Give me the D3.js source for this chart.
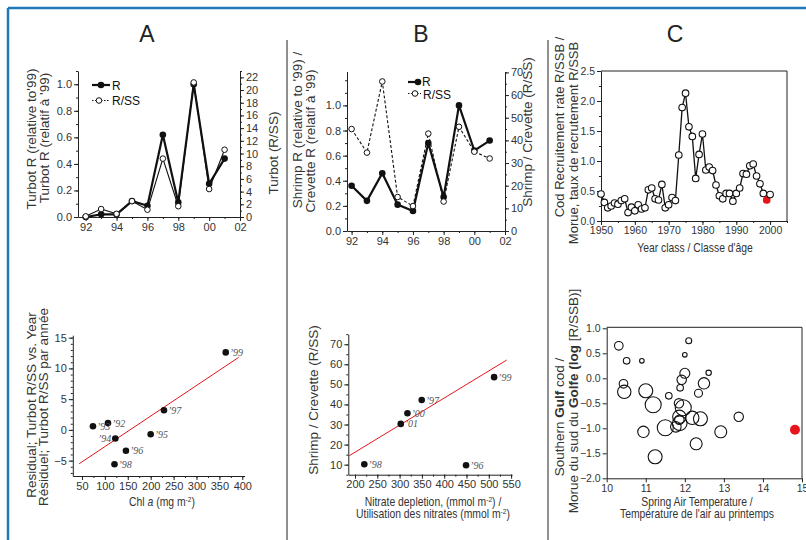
<!DOCTYPE html>
<html>
<head>
<meta charset="utf-8">
<script src="https://cdn.jsdelivr.net/npm/d3@7"></script>
<style>
  body { margin: 0; background: #fff; }
  svg text { font-family: "Liberation Sans", Arial, sans-serif; fill: #333; }
  .axis text { font-size: 11px; fill: #333; }
  .axis path, .axis line { stroke: #222; stroke-width: 1; }
  .ylab { font-size: 13.5px; }
  .xlab { font-size: 12.5px; }
  .yr { font-family: "Liberation Serif", "Times New Roman", serif !important; font-style: italic; font-size: 10px; fill: #555 !important; }
</style>
</head>
<body>
<svg id="fig" width="806" height="540"></svg>
<script>
// -------------------- DATA --------------------

// A (top) : turbot, 1992-2001
const years = [92, 93, 94, 95, 96, 97, 98, 99, 100, 101];
const turbotR = [0.0, 0.02, 0.02, 0.12, 0.085, 0.62, 0.11, 1.0, 0.25, 0.44];
const turbotRSS = [0.1, 1.25, 0.5, 2.5, 1.15, 9.2, 1.7, 21.2, 4.4, 10.6];

// B (top) : shrimp, 1992-2001
const shrimpR = [0.36, 0.24, 0.46, 0.21, 0.16, 0.70, 0.27, 1.0, 0.64, 0.72];
const shrimpRSS = [45, 34.6, 66, 15, 11, 43, 13, 46, 35, 32];

const yearTicks = [92, 94, 96, 98, 100, 102];
const yearTickLabels = ["92", "94", "96", "98", "00", "02"];

// C (top) : cod recruitment rate, 1950-2000
const codYears = d3.range(1950, 2001);
const codRSSB = [0.45, 0.31, 0.22, 0.25, 0.30, 0.28, 0.34, 0.37, 0.14, 0.23,
                 0.17, 0.27, 0.20, 0.22, 0.52, 0.55, 0.37, 0.35, 0.61, 0.22,
                 0.27, 0.39, 0.34, 1.10, 1.89, 2.13, 1.57, 1.41, 0.71, 1.11,
                 1.45, 0.85, 0.90, 0.84, 0.60, 0.42, 0.37, 0.46, 0.46, 0.33,
                 0.46, 0.55, 0.79, 0.78, 0.92, 0.95, 0.75, 0.62, 0.46, 0.35,
                 0.44];
const codHighlight = 1999;

// A (bottom) : residual turbot R/SS vs Chl a
const turbotLabels = ["’92", "’93", "’94", "’95", "’96", "’97", "’98", "’99"];
const chlA = [106.8, 74, 122.8, 200, 146, 229, 121, 363.8];
const turbotResid = [1.1, 0.6, -1.4, -0.7, -3.4, 3.2, -5.6, 12.6];
const turbotFit = { slope: 0.0497, intercept: -7.69, from: 44, to: 392 };

// B (bottom) : shrimp R/SS vs nitrate depletion
const shrimpLabels = ["’96", "’97", "’98", "’99", "’00", "’01"];
const nitrate = [449, 349.6, 220.9, 511.9, 317.6, 302.6];
const shrimpRSSpts = [9.7, 42.2, 10.2, 53.6, 35.6, 30.3];
const shrimpFit = { slope: 0.135, intercept: -10.8, from: 187, to: 540 };

// C (bottom) : cod log(R/SSB) vs spring air temperature, bubble = size
const springTemp = [10.31, 10.51, 10.90, 12.10, 12.0, 12.61, 12.0, 11.92, 12.49, 10.43,
                    10.45, 11.0, 11.88, 12.35, 11.59, 11.19, 11.85, 11.96, 12.19, 12.40,
                    11.86, 11.86, 11.87, 11.77, 11.50, 10.94, 12.92, 13.38, 12.29, 11.24];
const logRSSB = [0.65, 0.35, 0.35, 0.75, 0.47, 0.11, 0.10, -0.03, -0.10, -0.11,
                 -0.27, -0.25, -0.19, -0.30, -0.35, -0.53, -0.50, -0.59, -0.79, -0.81,
                 -0.83, -0.77, -0.90, -0.97, -0.99, -1.07, -1.07, -0.77, -1.31, -1.57];
const bubbleSize = [4.3, 3.3, 2.3, 3.0, 2.3, 2.7, 5.0, 4.7, 5.7, 4.3,
                    6.7, 7.0, 3.3, 4.0, 3.3, 8.0, 4.7, 8.0, 6.7, 7.0,
                    4.7, 6.7, 7.3, 5.3, 8.0, 5.7, 6.0, 4.7, 6.0, 7.0];
const tempHighlight = { temp: 14.82, value: -1.03, size: 5 };

// -------------------- HELPERS --------------------

const svg = d3.select("#fig");

function drawAxis(g, orient, scale, pos, major, minor, fmt) {
  const make = { left: d3.axisLeft, right: d3.axisRight, bottom: d3.axisBottom }[orient];
  const t = orient === "bottom" ? `translate(0,${pos})` : `translate(${pos},0)`;
  if (minor) {
    g.append("g").attr("class", "axis").attr("transform", t)
      .call(make(scale).tickValues(minor).tickSize(2).tickFormat("").tickSizeOuter(0))
      .select(".domain").remove();
  }
  g.append("g").attr("class", "axis").attr("transform", t)
    .call(make(scale).tickValues(major).tickSize(4).tickPadding(2).tickFormat(fmt).tickSizeOuter(0));
}

function yLabel(g, text, cx, cy, cls) {
  return g.append("text").attr("class", cls || "ylab")
    .attr("transform", `translate(${cx},${cy}) rotate(-90)`)
    .attr("text-anchor", "middle").attr("dy", "0.35em").text(text);
}

// x labels in the picture use a narrow face: squeeze horizontally
function xLabel(g, cx, y) {
  return g.append("text").attr("class", "xlab")
    .attr("transform", `translate(${cx},${y}) scale(0.83,1)`)
    .attr("text-anchor", "middle");
}

function sup(t, s, after) {
  t.append("tspan").attr("dy", -4).attr("font-size", "8px").text(s);
  t.append("tspan").attr("dy", 4).text(after || ")");
}

// -------------------- FRAME --------------------

svg.append("line").attr("x1", 8).attr("y1", 8).attr("x2", 806).attr("y2", 8)
  .attr("stroke", "#1f78b8").attr("stroke-width", 2.5);
svg.append("line").attr("x1", 8).attr("y1", 8).attr("x2", 8).attr("y2", 540)
  .attr("stroke", "#1f78b8").attr("stroke-width", 2.5);
[287, 548].forEach(x => svg.append("line").attr("x1", x).attr("x2", x).attr("y1", 40).attr("y2", 540)
  .attr("stroke", "#222").attr("stroke-width", 1));

[["A", 147], ["B", 421], ["C", 675]].forEach(([t, x]) =>
  svg.append("text").attr("x", x).attr("y", 41.5).attr("text-anchor", "middle")
    .style("font-size", "23px").style("fill", "#222").text(t));

// -------------------- A TOP --------------------
{
  const g = svg.append("g");
  const x = d3.scaleLinear().domain([91.5, 102]).range([78, 240]);
  const y = d3.scaleLinear().domain([0, 1.1]).range([217, 71]);
  const y2 = d3.scaleLinear().domain([0, 23]).range([217, 71]);

  drawAxis(g, "bottom", x, 217, yearTicks, d3.range(92, 103), (d, i) => yearTickLabels[i]);
  drawAxis(g, "left", y, 78, [0, 0.2, 0.4, 0.6, 0.8, 1.0], d3.range(0, 1.11, 0.1), d3.format(".1f"));
  drawAxis(g, "right", y2, 240, d3.range(0, 23, 2), d3.range(0, 24, 1), d3.format("d"));

  g.append("path").datum(turbotR)
    .attr("d", d3.line().x((d, i) => x(years[i])).y(d => y(d)))
    .attr("fill", "none").attr("stroke", "#111").attr("stroke-width", 2.2);
  g.selectAll(".rA").data(turbotR).enter().append("circle")
    .attr("cx", (d, i) => x(years[i])).attr("cy", d => y(d)).attr("r", 3.3).attr("fill", "#111");

  g.append("path").datum(turbotRSS)
    .attr("d", d3.line().x((d, i) => x(years[i])).y(d => y2(d)))
    .attr("fill", "none").attr("stroke", "#111").attr("stroke-width", 1.1);
  g.selectAll(".sA").data(turbotRSS).enter().append("circle")
    .attr("cx", (d, i) => x(years[i])).attr("cy", d => y2(d)).attr("r", 2.8)
    .attr("fill", "#fff").attr("stroke", "#111").attr("stroke-width", 1);

  // legend
  g.append("line").attr("x1", 92).attr("x2", 110).attr("y1", 85).attr("y2", 85).attr("stroke", "#111").attr("stroke-width", 2.2);
  g.append("circle").attr("cx", 101).attr("cy", 85).attr("r", 3.3).attr("fill", "#111");
  g.append("text").attr("x", 112).attr("y", 89.5).style("font-size", "12px").style("fill", "#111").text("R");
  g.append("line").attr("x1", 92).attr("x2", 110).attr("y1", 100.5).attr("y2", 100.5).attr("stroke", "#111")
    .attr("stroke-width", 1).attr("stroke-dasharray", "1.5,1.5");
  g.append("circle").attr("cx", 99).attr("cy", 100.5).attr("r", 2.8).attr("fill", "#fff").attr("stroke", "#111");
  g.append("text").attr("x", 112).attr("y", 105).style("font-size", "12px").style("fill", "#111").text("R/SS");

  yLabel(g, "Turbot R (relative to'99)", 31, 139);
  yLabel(g, "Turbot R (relatif à '99)", 44, 138);
  yLabel(g, "Turbot (R/SS)", 273, 153);
}

// -------------------- B TOP --------------------
{
  const g = svg.append("g");
  const x = d3.scaleLinear().domain([91.7, 102]).range([347, 505]);
  const y = d3.scaleLinear().domain([0, 1.27]).range([231, 71.5]);
  const y2 = d3.scaleLinear().domain([0, 70.4]).range([231, 71.5]);

  drawAxis(g, "bottom", x, 231, yearTicks, d3.range(92, 103), (d, i) => yearTickLabels[i]);
  drawAxis(g, "left", y, 347, [0, 0.2, 0.4, 0.6, 0.8, 1.0], d3.range(0, 1.27, 0.1), d3.format(".1f"));
  drawAxis(g, "right", y2, 505, d3.range(0, 71, 10), d3.range(0, 71, 5), d3.format("d"));

  g.append("path").datum(shrimpR)
    .attr("d", d3.line().x((d, i) => x(years[i])).y(d => y(d)))
    .attr("fill", "none").attr("stroke", "#111").attr("stroke-width", 2.2);
  g.selectAll(".rB").data(shrimpR).enter().append("circle")
    .attr("cx", (d, i) => x(years[i])).attr("cy", d => y(d)).attr("r", 3.3).attr("fill", "#111");

  g.append("path").datum(shrimpRSS)
    .attr("d", d3.line().x((d, i) => x(years[i])).y(d => y2(d)))
    .attr("fill", "none").attr("stroke", "#111").attr("stroke-width", 1.1).attr("stroke-dasharray", "3,2");
  g.selectAll(".sB").data(shrimpRSS).enter().append("circle")
    .attr("cx", (d, i) => x(years[i])).attr("cy", d => y2(d)).attr("r", 2.8)
    .attr("fill", "#fff").attr("stroke", "#111").attr("stroke-width", 1);

  // legend
  g.append("line").attr("x1", 408).attr("x2", 421).attr("y1", 82).attr("y2", 82).attr("stroke", "#111").attr("stroke-width", 2.2);
  g.append("circle").attr("cx", 418).attr("cy", 82).attr("r", 3.3).attr("fill", "#111");
  g.append("text").attr("x", 422).attr("y", 86).style("font-size", "12px").style("fill", "#111").text("R");
  g.append("line").attr("x1", 408).attr("x2", 421).attr("y1", 93.5).attr("y2", 93.5).attr("stroke", "#111")
    .attr("stroke-width", 1).attr("stroke-dasharray", "1.5,1.5");
  g.append("circle").attr("cx", 415).attr("cy", 93.5).attr("r", 2.8).attr("fill", "#fff").attr("stroke", "#111");
  g.append("text").attr("x", 423).attr("y", 98.5).style("font-size", "12px").style("fill", "#111").text("R/SS");

  yLabel(g, "Shrimp R (relative to '99) /", 297, 130);
  yLabel(g, "Crevette R (relatif à '99)", 310, 141);
  yLabel(g, "Shrimp / Crevette (R/SS)", 527, 132);
}

// -------------------- C TOP --------------------
{
  const g = svg.append("g");
  const x = d3.scaleLinear().domain([1950, 2005]).range([601, 787]);
  const y = d3.scaleLinear().domain([0, 2.5]).range([221, 71]);

  drawAxis(g, "bottom", x, 221, d3.range(1950, 2001, 10), d3.range(1950, 2006, 5), d3.format("d"));
  drawAxis(g, "left", y, 601, d3.range(0, 2.51, 0.5), d3.range(0, 2.51, 0.25), d3.format(".1f"));
  g.append("path").attr("d", `M${x(1950)},${y(2.5)}H${x(2005)}V${y(0)}`)
    .attr("fill", "none").attr("stroke", "#222");
  g.selectAll(".axis text").style("font-size", "10.5px");

  g.append("path").datum(codRSSB)
    .attr("d", d3.line().x((d, i) => x(codYears[i])).y(d => y(d)))
    .attr("fill", "none").attr("stroke", "#111").attr("stroke-width", 1.3);
  g.selectAll(".cod").data(codRSSB).enter().append("circle")
    .attr("cx", (d, i) => x(codYears[i])).attr("cy", d => y(d)).attr("r", 3.3)
    .attr("fill", (d, i) => codYears[i] === codHighlight ? "#e8141c" : "#fff")
    .attr("stroke", (d, i) => codYears[i] === codHighlight ? "#e8141c" : "#111")
    .attr("stroke-width", 1.1);

  yLabel(g, "Cod Recruitement rate R/SSB /", 559, 127, "ylab").style("font-size", "13px");
  yLabel(g, "Morue, taux de recrutement R/SSB", 573, 143, "ylab").style("font-size", "13px");
  xLabel(g, 695, 251.5).text("Year class / Classe d'âge");
}

// -------------------- A BOTTOM --------------------
{
  const g = svg.append("g");
  const x = d3.scaleLinear().domain([30, 405]).range([72.8, 244.6]);
  const y = d3.scaleLinear().domain([-7.5, 15.4]).range([476, 335.2]);

  drawAxis(g, "bottom", x, 476, d3.range(50, 401, 50), d3.range(50, 401, 25), d3.format("d"));
  drawAxis(g, "left", y, 72.8, d3.range(-5, 16, 5), d3.range(-7, 16, 1), d3.format("d"));

  g.append("line")
    .attr("x1", x(turbotFit.from)).attr("y1", y(turbotFit.intercept + turbotFit.slope * turbotFit.from))
    .attr("x2", x(turbotFit.to)).attr("y2", y(turbotFit.intercept + turbotFit.slope * turbotFit.to))
    .attr("stroke", "#e8141c").attr("stroke-width", 1);

  g.selectAll(".pA").data(chlA).enter().append("circle")
    .attr("cx", d => x(d)).attr("cy", (d, i) => y(turbotResid[i])).attr("r", 3.3).attr("fill", "#111");
  g.selectAll(".lA").data(chlA).enter().append("text").attr("class", "yr")
    .attr("x", (d, i) => turbotLabels[i] === "’94" ? x(d) - 4 : x(d) + 4)
    .attr("text-anchor", (d, i) => turbotLabels[i] === "’94" ? "end" : "start")
    .attr("y", (d, i) => y(turbotResid[i]) + 3.5)
    .text((d, i) => turbotLabels[i]);

  yLabel(g, "Residual; Turbot R/SS vs. Year", 31, 405);
  yLabel(g, "Résiduel; Turbot R/SS par année", 43.5, 407);
  const t = xLabel(g, 162, 505.5);
  t.append("tspan").text("Chl ");
  t.append("tspan").style("font-style", "italic").text("a");
  t.append("tspan").text(" (mg m");
  sup(t, "-2");
}

// -------------------- B BOTTOM --------------------
{
  const g = svg.append("g");
  const x = d3.scaleLinear().domain([185, 552]).range([348.3, 512]);
  const y = d3.scaleLinear().domain([5, 75]).range([474.7, 334.2]);

  drawAxis(g, "bottom", x, 474.7, d3.range(200, 551, 50), d3.range(200, 551, 25), d3.format("d"));
  drawAxis(g, "left", y, 348.3, d3.range(10, 71, 10), d3.range(5, 76, 5), d3.format("d"));

  g.append("line")
    .attr("x1", x(shrimpFit.from)).attr("y1", y(shrimpFit.intercept + shrimpFit.slope * shrimpFit.from))
    .attr("x2", x(shrimpFit.to)).attr("y2", y(shrimpFit.intercept + shrimpFit.slope * shrimpFit.to))
    .attr("stroke", "#e8141c").attr("stroke-width", 1);

  g.selectAll(".pB").data(nitrate).enter().append("circle")
    .attr("cx", d => x(d)).attr("cy", (d, i) => y(shrimpRSSpts[i])).attr("r", 3.3).attr("fill", "#111");
  g.selectAll(".lB").data(nitrate).enter().append("text").attr("class", "yr")
    .attr("x", d => x(d) + 4).attr("y", (d, i) => y(shrimpRSSpts[i]) + 3.5)
    .text((d, i) => shrimpLabels[i]);

  yLabel(g, "Shrimp / Crevette (R/SS)", 313, 400);
  const t1 = xLabel(g, 433, 505.5);
  t1.append("tspan").text("Nitrate depletion, (mmol m");
  sup(t1, "-2", ") /");
  const t2 = xLabel(g, 433, 518);
  t2.append("tspan").text("Utilisation des nitrates (mmol m");
  sup(t2, "-2");
}

// -------------------- C BOTTOM --------------------
{
  const g = svg.append("g");
  const x = d3.scaleLinear().domain([10, 15]).range([606.7, 802]);
  const y = d3.scaleLinear().domain([-2, 1.02]).range([478.3, 327.3]);

  drawAxis(g, "bottom", x, 478.3, d3.range(10, 16, 1), null, d3.format("d"));
  drawAxis(g, "left", y, 606.7, d3.range(-2, 1.01, 0.5), null, d3.format(".1f"));
  g.append("path").attr("d", `M${x(10)},${y(1.02)}H${x(15)}V${y(-2)}`)
    .attr("fill", "none").attr("stroke", "#222");
  g.selectAll(".axis text").style("font-size", "10.5px");

  g.selectAll(".bub").data(springTemp).enter().append("circle")
    .attr("cx", d => x(d)).attr("cy", (d, i) => y(logRSSB[i])).attr("r", (d, i) => bubbleSize[i])
    .attr("fill", "none").attr("stroke", "#111").attr("stroke-width", 1.1);
  g.append("circle").attr("cx", x(tempHighlight.temp)).attr("cy", y(tempHighlight.value))
    .attr("r", tempHighlight.size).attr("fill", "#e8141c");

  const l1 = yLabel(g, "", 559, 417);
  l1.append("tspan").text("Southern ");
  l1.append("tspan").style("font-weight", "bold").text("Gulf");
  l1.append("tspan").text(" cod /");
  const l2 = yLabel(g, "", 573, 401);
  l2.append("tspan").text("Morue du sud du ");
  l2.append("tspan").style("font-weight", "bold").text("Golfe (log");
  l2.append("tspan").text("  [R/SSB)]");

  xLabel(g, 697, 505.5).text("Spring Air Temperature /");
  xLabel(g, 697, 518).text("Température de l'air au printemps");
}
</script>
</body>
</html>
